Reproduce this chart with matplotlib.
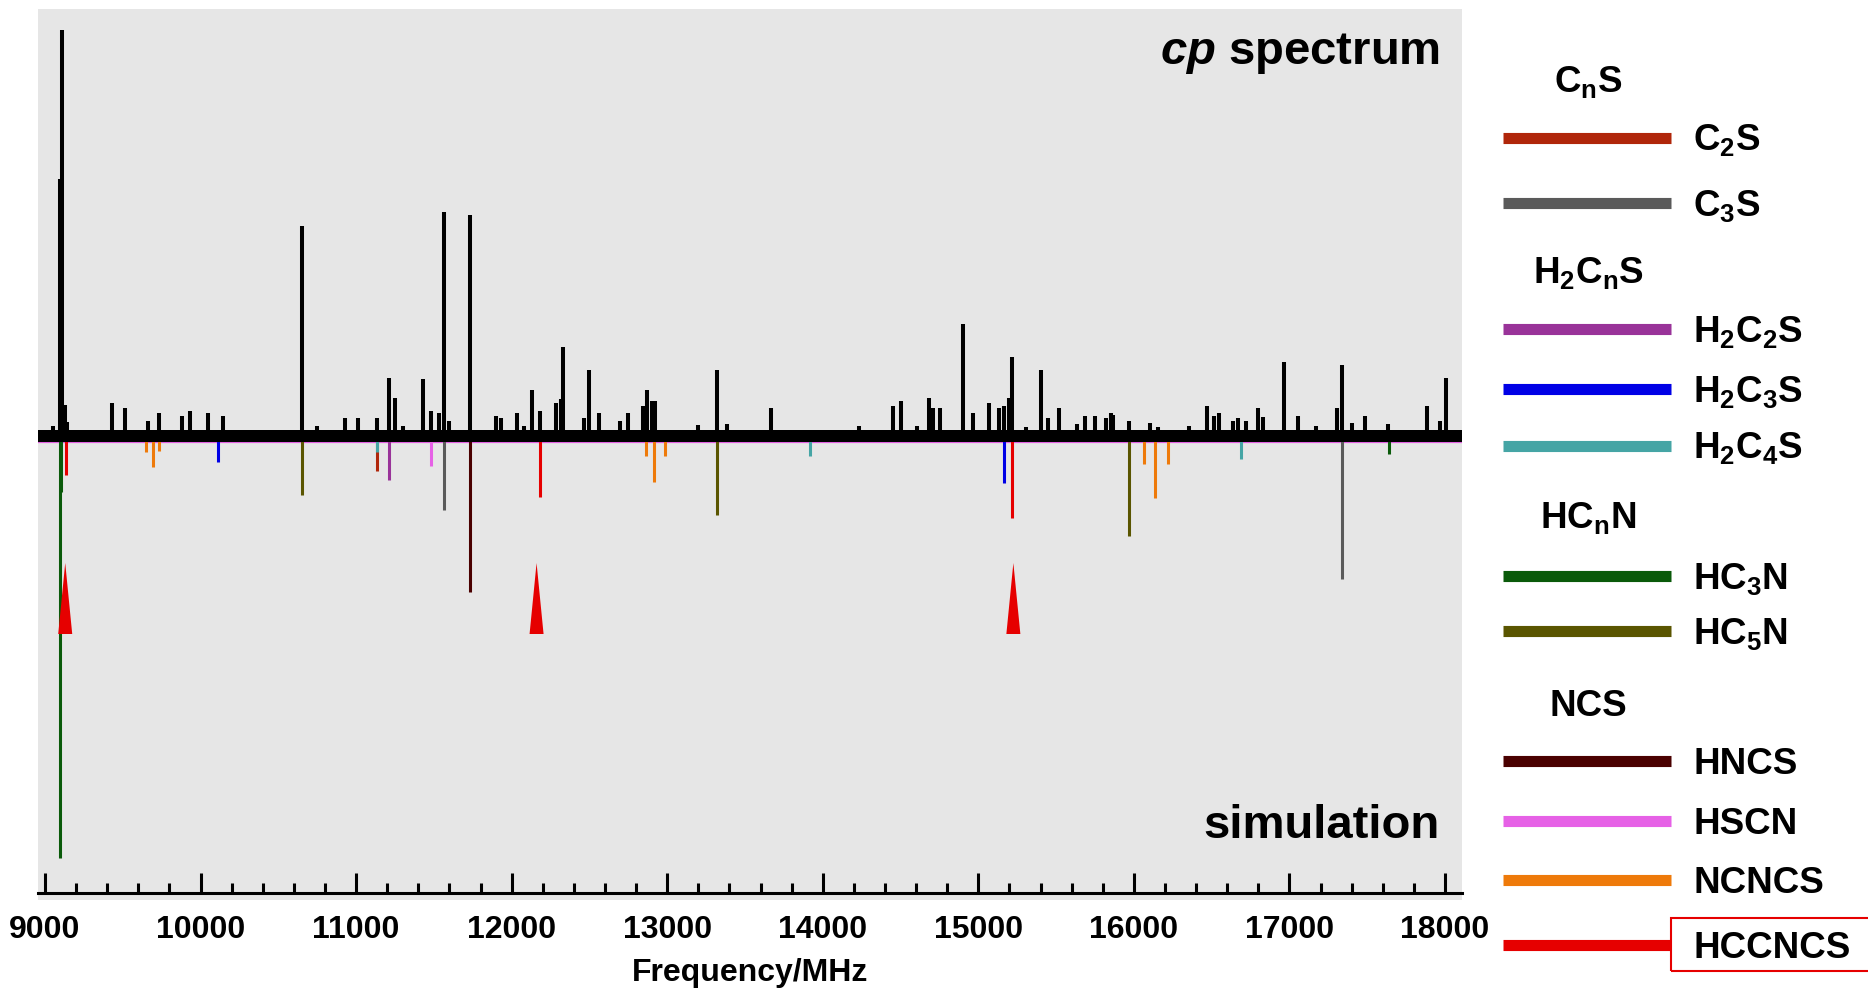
import matplotlib.pyplot as plt
from matplotlib.lines import Line2D
from matplotlib.patches import Rectangle
from matplotlib.ticker import MultipleLocator

plt.rcParams['font.family'] = 'Liberation Sans'
plt.rcParams['font.weight'] = 'bold'
plt.rcParams['mathtext.fontset'] = 'custom'
plt.rcParams['mathtext.rm'] = 'Liberation Sans:bold'
plt.rcParams['mathtext.it'] = 'Liberation Sans:bold:italic'
plt.rcParams['mathtext.bf'] = 'Liberation Sans:bold'
plt.rcParams['mathtext.default'] = 'rm'

# cp spectrum (MHz, arb. intensity)
exp_freq = [9025, 9053, 9097, 9111, 9129, 9143, 9429, 9514, 9664, 9735, 9879, 9932,
            10046, 10146, 10650, 10746, 10929, 11012, 11132, 11213, 11250, 11299,
            11432, 11481, 11533, 11567, 11599, 11732, 11899, 11931, 12032, 12081,
            12133, 12182, 12283, 12317, 12332, 12467, 12499, 12563, 12696, 12750,
            12846, 12868, 12904, 12921, 13200, 13318, 13386, 13667, 14235, 14449,
            14503, 14603, 14685, 14706, 14753, 14903, 14967, 15070, 15134, 15166,
            15199, 15218, 15304, 15403, 15450, 15518, 15636, 15686, 15750, 15821,
            15851, 15868, 15970, 16104, 16153, 16354, 16468, 16517, 16549, 16635,
            16667, 16718, 16800, 16830, 16967, 17057, 17171, 17304, 17336, 17404,
            17485, 17635, 17886, 17968, 18004]
exp_int = [9, 14, 261, 410, 35, 18, 37, 32, 19, 27, 24, 29,
           27, 24, 214, 14, 22, 22, 22, 62, 42, 14,
           61, 29, 27, 228, 19, 225, 24, 22, 27, 14,
           50, 29, 37, 41, 93, 22, 70, 27, 19, 27,
           34, 50, 39, 39, 15, 70, 16, 32, 14, 34,
           39, 14, 42, 32, 32, 116, 27, 37, 32, 34,
           42, 83, 13, 70, 22, 32, 16, 24, 24, 22,
           27, 25, 19, 17, 13, 14, 34, 24, 27, 19,
           22, 19, 32, 23, 78, 24, 14, 32, 75, 17,
           24, 16, 34, 19, 62]

# simulated lines, drawn downwards
sim_freq = [11132, 11567, 17338, 11213, 10114, 15166, 11132, 13918, 16686,
            9097, 9104, 17638, 10650, 13318, 15970, 11732, 11481,
            9647, 9696, 9733, 12863, 12915, 12986, 16067, 16135, 16221,
            9133, 12182, 15218]
sim_int = [31, 70, 139, 40, 22, 43, 12, 16, 19,
           418, 52, 14, 55, 75, 96, 152, 26,
           12, 27, 11, 16, 42, 16, 24, 58, 24,
           35, 57, 78]
sim_mol = ['C2S', 'C3S', 'C3S', 'H2C2S', 'H2C3S', 'H2C3S', 'H2C4S', 'H2C4S', 'H2C4S',
           'HC3N', 'HC3N', 'HC3N', 'HC5N', 'HC5N', 'HC5N', 'HNCS', 'HSCN',
           'NCNCS', 'NCNCS', 'NCNCS', 'NCNCS', 'NCNCS', 'NCNCS', 'NCNCS', 'NCNCS', 'NCNCS',
           'HCCNCS', 'HCCNCS', 'HCCNCS']

# HCCNCS marker arrows
arrow_freq = [9130, 12160, 15225]

# legend
group_titles = ['C$_n$S', 'H$_2$C$_n$S', 'HC$_n$N', 'NCS']
species = ['C2S', 'C3S', 'H2C2S', 'H2C3S', 'H2C4S', 'HC3N', 'HC5N',
           'HNCS', 'HSCN', 'NCNCS', 'HCCNCS']
species_labels = ['C$_2$S', 'C$_3$S', 'H$_2$C$_2$S', 'H$_2$C$_3$S', 'H$_2$C$_4$S',
                  'HC$_3$N', 'HC$_5$N', 'HNCS', 'HSCN', 'NCNCS', 'HCCNCS']
species_colors = ['#b0260a', '#5a5a5a', '#993399', '#0000e6', '#45a5a5', '#0a5a0a',
                  '#5a5500', '#4a0000', '#e661e6', '#ee7a0a', '#e60000']
color_of = dict(zip(species, species_colors))

W, H = 1868, 988
fig = plt.figure(figsize=(W / 100, H / 100), dpi=100)
ax = fig.add_axes([38 / W, 1 - 900 / H, (1462 - 38) / W, (900 - 9) / H])
ax.set_facecolor('#e6e6e6')
ax.set_xlim(8955, 18109)
ax.set_ylim(-460, 431)

# simulation
ax.axhline(-2.5, color='#e060e0', lw=0.9, zorder=1)
for mol in species:
    f = [x for x, m in zip(sim_freq, sim_mol) if m == mol]
    d = [-v for v, m in zip(sim_int, sim_mol) if m == mol]
    ax.vlines(f, 0, d, color=color_of[mol], lw=2.2, zorder=2)

for f in arrow_freq:
    ax.fill([f - 45, f, f + 45], [-194, -123, -194], color='#e60000', lw=0, zorder=3)

# experiment
ax.axhspan(-2, 10, color='black', lw=0, zorder=4)
ax.vlines(exp_freq, 0, exp_int, color='black', lw=2.9, zorder=5)

ax.text(0.9846, 0.938, r'$\mathit{cp}$ spectrum', transform=ax.transAxes,
        ha='right', va='baseline', fontsize=34)
ax.text(0.9846, 0.0695, 'simulation', transform=ax.transAxes,
        ha='right', va='baseline', fontsize=34)

for s in ['top', 'left', 'right']:
    ax.spines[s].set_visible(False)
ax.spines['bottom'].set_position(('data', -453))
ax.spines['bottom'].set_linewidth(2.2)
ax.set_yticks([])
ax.set_xticks(range(9000, 18001, 1000))
ax.xaxis.set_minor_locator(MultipleLocator(200))
ax.tick_params(axis='x', which='major', direction='in', length=14.4, width=2.2,
               labelsize=23, pad=16)
ax.tick_params(axis='x', which='minor', direction='in', length=7.2, width=2.2)
ax.set_xlabel('Frequency/MHz', fontsize=23, fontweight='bold', labelpad=9)

# legend drawn by hand on the right
title_y = [80, 270, 515, 703]
row_y = [138, 203, 329, 389, 446, 576, 631, 761, 821, 880, 945]
for t, y in zip(group_titles, title_y):
    fig.text(1588 / W, 1 - (y + 12.5) / H, t, ha='center', va='baseline', fontsize=26.5)
for lab, c, y in zip(species_labels, species_colors, row_y):
    fig.add_artist(Line2D([1503 / W, 1671 / W], [1 - y / H, 1 - y / H], color=c,
                          lw=8, solid_capstyle='butt'))
    fig.text(1693 / W, 1 - (y + 12.5) / H, lab, ha='left', va='baseline', fontsize=26.5)
fig.add_artist(Rectangle((1671 / W, 1 - 971 / H), 260 / W, 53 / H, fill=False,
                         edgecolor='#e60000', lw=1.5))

fig.savefig('out.png', dpi=100)
